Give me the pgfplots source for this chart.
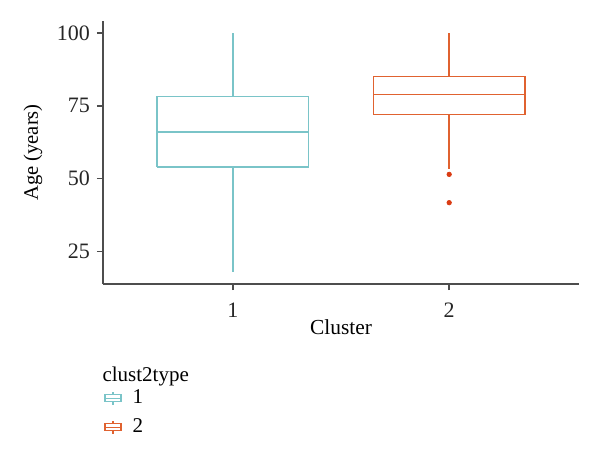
\documentclass[border=0pt]{standalone}
\usepackage{fontspec}
\setmainfont{Liberation Serif}
\usepackage{pgfplots}
\pgfplotsset{compat=1.18}

\definecolor{clA}{RGB}{122,196,200}
\definecolor{clB}{RGB}{224,98,48}
\definecolor{outl}{RGB}{218,60,20}
\definecolor{axgray}{RGB}{77,77,77}

\begin{document}
\begin{tikzpicture}
\useasboundingbox (-51.5pt,-85.5pt) rectangle (248.5pt,142pt);
\begin{axis}[
  scale only axis, width=238pt, height=131.5pt,
  xmin=0.4, xmax=2.6, ymin=13.9, ymax=104.1,
  axis lines*=left, axis line style={-, axgray, line width=0.7pt},
  xtick={1,2}, ytick={25,50,75,100},
  tick align=outside, major tick length=3pt,
  tick style={axgray, line width=0.7pt},
  /pgf/number format/assume math mode=true,
  ticklabel style={font=\fontsize{11}{13}\selectfont, text=black!85},
  xticklabel style={yshift=-3pt},
  xlabel={Cluster}, ylabel={Age (years)},
  every axis x label/.style={at={(axis description cs:0.5,0)}, yshift=-21.5pt,
    anchor=center, font=\fontsize{10.7}{13}\selectfont},
  every axis y label/.style={at={(axis description cs:0,0.5)}, xshift=-35pt,
    rotate=90, anchor=center, font=\fontsize{10.3}{13}\selectfont},
  legend style={at={(axis description cs:0.002,-0.277)}, anchor=north west, draw=none, fill=none,
    inner sep=0pt, row sep=3pt, font=\fontsize{10.5}{12}\selectfont,
    nodes={inner sep=1.5pt}},
  legend cell align=left,
  legend image code/.code={
    \draw[#1] (4pt,-3.25pt) -- (4pt,-1.75pt) (0pt,-1.75pt) rectangle (8pt,1.75pt)
      (0pt,0pt) -- (8pt,0pt) (4pt,1.75pt) -- (4pt,3.25pt);},
]
\addlegendimage{empty legend}
\addlegendentry{\hspace*{-11pt}\raisebox{-3.5pt}[\height][\depth]{clust2type}}
\addlegendimage{clA, line width=0.6pt}
\addlegendentry{\hspace*{4pt}1}
\addlegendimage{clB, line width=0.6pt}
\addlegendentry{\hspace*{4pt}2}

% cluster 1: whiskers 18-100, box 54-78.2, median 66
\addplot[forget plot, clA, line width=0.7pt] coordinates {(0.65,54) (1.35,54) (1.35,78.2) (0.65,78.2) (0.65,54)};
\addplot[forget plot, clA, line width=0.7pt] coordinates {(0.65,66) (1.35,66)};
\addplot[forget plot, clA, line width=0.7pt] coordinates {(1,78.2) (1,100)};
\addplot[forget plot, clA, line width=0.7pt] coordinates {(1,54) (1,18)};

% cluster 2: whiskers 53.2-100, box 72-85, median 78.8, outliers
\addplot[forget plot, clB, line width=0.7pt] coordinates {(1.65,72) (2.35,72) (2.35,85) (1.65,85) (1.65,72)};
\addplot[forget plot, clB, line width=0.7pt] coordinates {(1.65,78.8) (2.35,78.8)};
\addplot[forget plot, clB, line width=0.7pt] coordinates {(2,85) (2,100)};
\addplot[forget plot, clB, line width=0.7pt] coordinates {(2,72) (2,53.2)};
\addplot[forget plot, only marks, mark=*, mark size=1.1pt, outl] coordinates {(2,51.5) (2,41.8)};
\end{axis}
\end{tikzpicture}
\end{document}
